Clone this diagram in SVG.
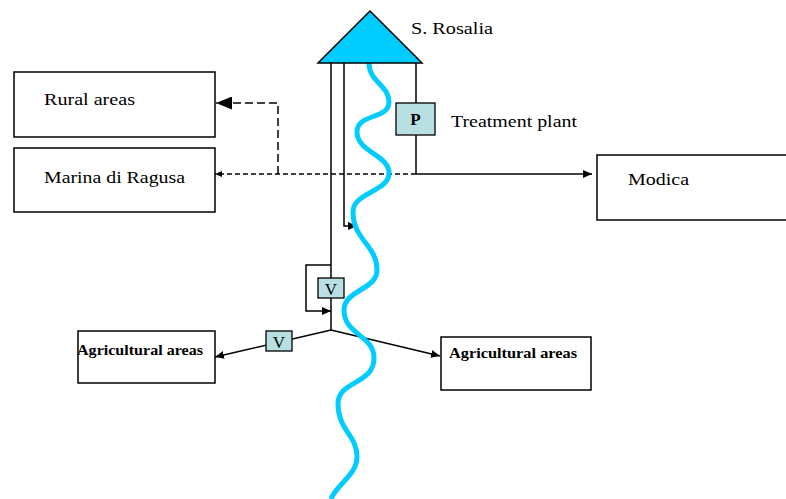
<svg xmlns="http://www.w3.org/2000/svg" width="786" height="499" viewBox="0 0 786 499">
<style>
.box{fill:#fff;stroke:#000;stroke-width:1.5}
.valve{fill:#B8DFE2;stroke:#000;stroke-width:1.3}
.t{font-family:"Liberation Serif","Times New Roman",serif;font-size:17px;fill:#000}
.tb{font-family:"Liberation Serif","Times New Roman",serif;font-size:14px;font-weight:bold;fill:#000}
.ln{fill:none;stroke:#000;stroke-width:1.5}
.river{fill:none;stroke:#00CCFF;stroke-width:5;stroke-linecap:butt}
</style>
<defs>
<marker id="aBig" markerUnits="userSpaceOnUse" markerWidth="16" markerHeight="13" refX="16" refY="6.5" orient="auto"><path d="M0,0 L16,6.5 L0,13 Z" fill="#000"/></marker>
<marker id="aSm" markerUnits="userSpaceOnUse" markerWidth="9" markerHeight="8" refX="9" refY="4" orient="auto"><path d="M0,0 L9,4 L0,8 Z" fill="#000"/></marker>
<marker id="aXs" markerUnits="userSpaceOnUse" markerWidth="7" markerHeight="6" refX="7" refY="3" orient="auto"><path d="M0,0 L7,3 L0,6 Z" fill="#000"/></marker>
</defs>

<g id="connectors">
<line class="ln" x1="331" y1="63" x2="331" y2="330"/>
<path class="ln" d="M344,63 V226 H357" marker-end="url(#aSm)"/>
<line class="ln" x1="416" y1="63" x2="416" y2="174"/>
<path class="ln" d="M416,174 H592" stroke-width="2.2" marker-end="url(#aSm)"/>
<path class="ln" d="M416,174 H215" stroke-width="2" stroke-dasharray="5,3" marker-end="url(#aXs)"/>
<path class="ln" d="M278,174 V103 H216" stroke-width="2.2" stroke-dasharray="8,4" marker-end="url(#aBig)"/>
<path class="ln" d="M331,265 H306 V311 H331" marker-end="url(#aSm)"/>
<line class="ln" x1="331" y1="330" x2="215" y2="357" stroke-width="2.6" marker-end="url(#aSm)"/>
<line class="ln" x1="331" y1="330" x2="440" y2="356" stroke-width="2.6" marker-end="url(#aSm)"/>
</g>

<g id="river">
<path class="river" d="M369,63 C369,82 389,85 389,102 C389,120 357,113 357,132 C357,152 389,155 389,173 C389,192 353,192 353,212 C353,240 377,245 377,270 C377,290 344,290 344,310 C344,335 374,335 374,358 C374,385 338,380 338,404 C338,430 357,435 357,457 C357,475 336,485 331,499"/>
</g>

<g id="s-rosalia">
<path d="M370,11 L422,63 L318,63 Z" fill="#00CCFF" stroke="#000" stroke-width="1.5"/>
<text class="t" x="411" y="34" textLength="82" lengthAdjust="spacingAndGlyphs">S. Rosalia</text>
</g>

<g id="treatment-plant">
<rect class="valve" x="396" y="103" width="39" height="32"/>
<text class="t" x="415.5" y="125" text-anchor="middle" font-weight="bold" font-size="16">P</text>
<text class="t" x="451" y="127" textLength="126" lengthAdjust="spacingAndGlyphs">Treatment plant</text>
</g>

<g id="valve-center">
<rect class="valve" x="318" y="278" width="26" height="20"/>
<text class="t" x="331" y="294.5" text-anchor="middle" font-size="16">V</text>
</g>

<g id="valve-left">
<rect class="valve" x="266" y="331" width="26" height="20"/>
<text class="t" x="279" y="347.5" text-anchor="middle" font-size="16">V</text>
</g>

<g id="rural-areas">
<rect class="box" x="14" y="72" width="201" height="65"/>
<text class="t" x="44" y="105" textLength="91" lengthAdjust="spacingAndGlyphs">Rural areas</text>
</g>

<g id="marina-di-ragusa">
<rect class="box" x="14" y="148" width="201" height="64"/>
<text class="t" x="44" y="183" textLength="141" lengthAdjust="spacingAndGlyphs">Marina di Ragusa</text>
</g>

<g id="modica">
<rect class="box" x="597" y="155" width="200" height="65"/>
<text class="t" x="628" y="185" textLength="61" lengthAdjust="spacingAndGlyphs">Modica</text>
</g>

<g id="agri-left">
<rect class="box" x="78" y="331" width="137" height="52"/>
<text class="tb" x="77" y="355" textLength="126" lengthAdjust="spacingAndGlyphs">Agricultural areas</text>
</g>

<g id="agri-right">
<rect class="box" x="441" y="337" width="150" height="53"/>
<text class="tb" x="449" y="358" textLength="128" lengthAdjust="spacingAndGlyphs">Agricultural areas</text>
</g>
</svg>
